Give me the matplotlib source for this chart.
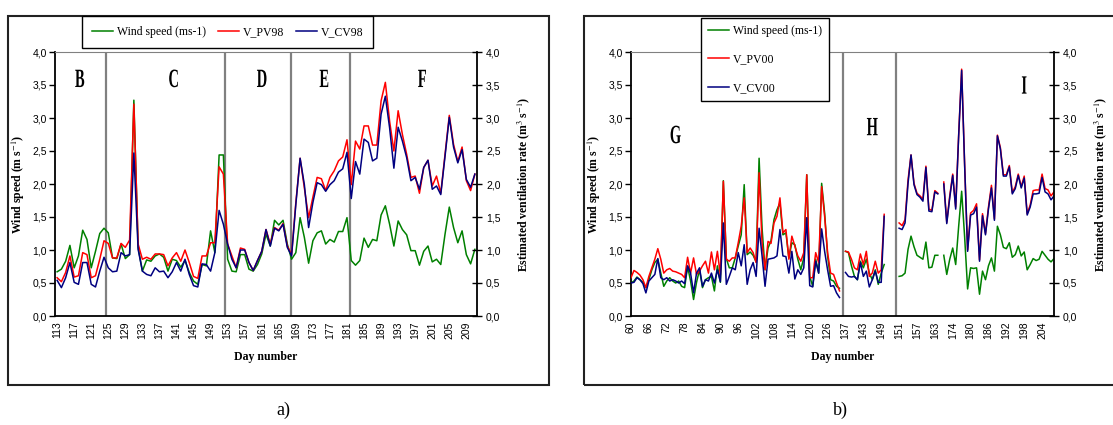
"""Wind speed and estimated ventilation rate by day number: a) 1998 (periods B-F), b) 2000 (periods G-I)."""
import matplotlib

matplotlib.use("Agg")
import matplotlib.pyplot as plt  # noqa: E402
import numpy as np  # noqa: E402
from matplotlib.font_manager import FontProperties  # noqa: E402
from matplotlib.patches import PathPatch, Rectangle  # noqa: E402
from matplotlib.textpath import TextPath  # noqa: E402
from matplotlib.ticker import FuncFormatter  # noqa: E402
from matplotlib.transforms import Affine2D, ScaledTranslation  # noqa: E402

nan = np.nan

# a) 1998 - one category per day, 113..211
days_98 = np.arange(113, 212)
wind_98 = [0.67, 0.71, 0.83, 1.07, 0.73, 0.91, 1.30, 1.16, 0.73, 0.98,
           1.25, 1.33, 1.26, 0.88, 0.87, 1.09, 0.87, 0.93, 3.27, 1.04,
           0.68, 0.85, 0.83, 0.91, 0.94, 0.89, 0.68, 0.86, 0.84, 0.74,
           0.84, 0.66, 0.53, 0.48, 0.78, 0.76, 1.29, 0.96, 2.44, 2.44,
           0.86, 0.68, 0.67, 0.93, 0.93, 0.71, 0.68, 0.78, 0.94, 1.24,
           1.06, 1.45, 1.38, 1.45, 1.09, 0.86, 0.96, 1.49, 1.19, 0.80,
           1.14, 1.26, 1.29, 1.09, 1.16, 1.12, 1.28, 1.28, 1.49, 0.84,
           0.77, 0.84, 1.18, 1.04, 1.16, 1.14, 1.53, 1.67, 1.39, 1.06,
           1.44, 1.31, 1.23, 0.99, 0.99, 0.77, 0.98, 1.06, 0.82, 0.86,
           0.78, 1.24, 1.65, 1.34, 1.11, 1.29, 0.93, 0.79, 1.01]
pv98 = [0.58, 0.52, 0.66, 0.91, 0.59, 0.61, 0.96, 0.93, 0.58, 0.61,
        0.86, 1.14, 1.10, 0.88, 0.88, 1.10, 1.04, 1.15, 3.21, 1.09,
        0.86, 0.89, 0.86, 0.94, 0.94, 0.93, 0.76, 0.88, 0.96, 0.83,
        1.00, 0.81, 0.60, 0.57, 0.91, 0.91, 1.11, 1.11, 2.26, 2.15,
        1.09, 0.91, 0.73, 1.03, 1.01, 0.81, 0.69, 0.84, 0.98, 1.31,
        1.09, 1.34, 1.30, 1.40, 1.06, 0.93, 1.72, 2.39, 1.94, 1.49,
        1.80, 2.10, 2.08, 1.90, 2.10, 2.20, 2.35, 2.41, 2.67, 1.99,
        2.65, 2.53, 2.88, 2.88, 2.59, 2.59, 3.26, 3.54, 2.95, 2.50,
        3.11, 2.75, 2.45, 2.10, 2.12, 1.86, 2.25, 2.36, 1.97, 2.12,
        1.86, 2.45, 3.04, 2.60, 2.34, 2.56, 2.05, 1.90, 2.15]
cv98 = [0.54, 0.43, 0.58, 0.81, 0.51, 0.48, 0.81, 0.81, 0.48, 0.44,
        0.68, 0.89, 0.73, 0.67, 0.68, 0.96, 0.91, 0.93, 2.47, 1.01,
        0.68, 0.63, 0.61, 0.73, 0.67, 0.68, 0.58, 0.67, 0.81, 0.68,
        0.86, 0.63, 0.46, 0.44, 0.79, 0.78, 0.68, 0.96, 1.60, 1.39,
        1.09, 0.86, 0.73, 1.00, 1.00, 0.81, 0.69, 0.84, 0.98, 1.31,
        1.06, 1.33, 1.29, 1.39, 1.04, 0.91, 1.69, 2.39, 1.99, 1.34,
        1.72, 2.02, 1.99, 1.89, 1.99, 2.05, 2.18, 2.23, 2.48, 1.78,
        2.34, 2.15, 2.68, 2.63, 2.35, 2.39, 3.06, 3.33, 2.85, 2.24,
        2.86, 2.65, 2.40, 2.05, 2.10, 1.92, 2.25, 2.36, 1.92, 1.97,
        1.84, 2.42, 3.01, 2.56, 2.32, 2.52, 2.07, 1.95, 2.15]
breaks_98 = [124.5, 152.3, 167.9, 181.6]
ticks_98 = days_98[::4]

# b) 2000 - category axis with empty slots between the periods
cat_00 = np.arange(143)
wind_00 = [0.50, 0.53, 0.59, 0.55, 0.51, 0.43, 0.55, 0.70, 0.81, 0.86,
           0.65, 0.45, 0.53, 0.58, 0.53, 0.50, 0.53, 0.45, 0.43, 0.75,
           0.53, 0.25, 0.51, 0.70, 0.43, 0.55, 0.58, 0.60, 0.38, 0.76,
           0.51, 2.05, 0.87, 0.73, 0.73, 0.88, 1.06, 1.23, 1.99, 0.93,
           0.97, 0.92, 0.82, 2.39, 1.33, 0.70, 1.03, 1.14, 1.46, 1.61,
           1.71, 1.23, 1.26, 0.88, 1.11, 1.08, 0.86, 0.70, 0.88, 2.14,
           0.60, 0.45, 0.86, 0.65, 2.01, 1.56, 0.91, 0.55, 0.53, 0.45,
           0.42, nan, 0.98, 0.96, 0.76, 0.60, 0.55, 0.83, 0.73, 0.86,
           0.65, 0.55, 0.70, 0.48, 0.65, 0.78, nan, nan, nan, nan,
           0.60, 0.61, 0.65, 1.01, 1.21, 1.05, 0.92, 0.89, 0.86, 1.12,
           0.73, 0.74, 0.92, 0.92, nan, 0.92, 0.63, 0.86, 1.03, 0.78,
           1.36, 1.89, 1.20, 0.41, 0.73, 0.72, 0.73, 0.33, 0.68, 0.55,
           0.76, 0.88, 0.68, 1.36, 1.23, 1.04, 1.02, 1.11, 0.89, 0.93,
           1.06, 0.91, 0.97, 0.70, 0.78, 0.87, 0.84, 0.86, 0.98, 0.92,
           0.86, 0.82, 0.87]
pv00 = [0.58, 0.69, 0.66, 0.62, 0.55, 0.43, 0.60, 0.73, 0.86, 1.02,
        0.86, 0.65, 0.70, 0.72, 0.68, 0.67, 0.65, 0.63, 0.58, 0.89,
        0.65, 0.88, 0.63, 0.68, 0.76, 0.83, 0.65, 0.97, 0.70, 0.98,
        0.62, 2.04, 0.86, 0.83, 0.88, 0.88, 1.11, 1.36, 1.79, 0.96,
        1.03, 0.96, 0.81, 2.17, 1.10, 0.70, 1.13, 1.10, 1.41, 1.51,
        1.79, 1.26, 1.31, 0.86, 1.21, 1.06, 0.91, 0.83, 0.96, 2.14,
        0.58, 0.58, 0.96, 0.81, 1.96, 1.51, 0.96, 0.65, 0.63, 0.50,
        0.38, nan, 0.98, 0.97, 0.86, 0.73, 0.70, 0.94, 0.78, 0.98,
        0.60, 0.65, 0.83, 0.65, 0.70, 1.54, nan, nan, nan, nan,
        1.41, 1.37, 1.46, 2.06, 2.44, 2.01, 1.86, 1.82, 1.77, 2.27,
        1.62, 1.60, 1.90, 1.86, nan, 2.03, 1.42, 1.82, 2.15, 1.65,
        2.75, 3.74, 2.30, 1.00, 1.56, 1.60, 1.70, 0.85, 1.55, 1.25,
        1.65, 1.98, 1.47, 2.74, 2.55, 2.14, 2.14, 2.28, 1.87, 1.96,
        2.15, 1.96, 2.12, 1.55, 1.68, 1.90, 1.91, 1.91, 2.15, 1.93,
        1.91, 1.82, 1.88]
cv00 = [0.50, 0.51, 0.58, 0.55, 0.49, 0.35, 0.53, 0.58, 0.63, 0.87,
        0.58, 0.55, 0.58, 0.53, 0.55, 0.53, 0.50, 0.53, 0.49, 0.76,
        0.65, 0.35, 0.65, 0.73, 0.45, 0.55, 0.53, 0.65, 0.50, 0.70,
        0.52, 1.41, 0.48, 0.60, 0.73, 0.70, 0.96, 0.76, 1.08, 0.48,
        0.70, 0.81, 0.60, 1.33, 0.91, 0.45, 0.86, 0.87, 0.88, 0.91,
        1.31, 0.91, 0.90, 0.65, 0.98, 0.56, 0.70, 0.63, 0.73, 1.49,
        0.46, 0.44, 0.83, 0.65, 1.32, 0.98, 0.70, 0.45, 0.46, 0.35,
        0.28, nan, 0.66, 0.60, 0.59, 0.60, 0.55, 0.81, 0.60, 0.68,
        0.44, 0.55, 0.68, 0.51, 0.51, 1.51, nan, nan, nan, nan,
        1.33, 1.31, 1.41, 2.01, 2.44, 1.99, 1.84, 1.80, 1.74, 2.25,
        1.59, 1.58, 1.88, 1.85, nan, 2.00, 1.40, 1.79, 2.13, 1.62,
        2.73, 3.72, 2.28, 0.98, 1.53, 1.55, 1.65, 0.83, 1.52, 1.23,
        1.62, 1.94, 1.45, 2.73, 2.53, 2.12, 2.12, 2.26, 1.85, 1.93,
        2.13, 1.94, 2.09, 1.53, 1.65, 1.85, 1.85, 1.86, 2.10, 1.88,
        1.85, 1.76, 1.82]
breaks_00 = [71.0, 88.9]
ticks_00 = cat_00[::6]
ticklabels_00 = ["60", "66", "72", "78", "84", "90", "96", "102", "108", "114", "120", "126",
                 "137", "143", "149", "151", "157", "163", "174", "180", "186", "192", "198", "204"]

SERIF = "Liberation Serif"
GREEN, RED, NAVY, SEP = "#008000", "#ff0000", "#000080", "#808080"
W, H = 1113, 425

plt.rcParams["font.family"] = "Liberation Sans"
plt.rcParams["mathtext.fontset"] = "stix"

comma = FuncFormatter(lambda v, _: f"{v:.1f}".replace(".", ","))


def tall_letter(ax, x, y, s):
    # period letters are tall and narrow in the original: squeeze a bold serif glyph
    tp = TextPath((0, 0), s, size=19, prop=FontProperties(family=SERIF, weight="bold"))
    ext = tp.get_extents()
    tr = (Affine2D().translate(-(ext.x0 + ext.x1) / 2, -(ext.y0 + ext.y1) / 2).scale(0.55 / 72, 1 / 72)
          + ax.figure.dpi_scale_trans + ScaledTranslation(x, y, ax.transData))
    ax.add_artist(PathPatch(tp, transform=tr, fc="black", ec="none", clip_on=False))


def panel(fig, px, x, wind, pv, cv, breaks, ticks, ticklabels, xlim, letters):
    x0, x1 = px
    ax = fig.add_axes([x0 / W, 1 - 316 / H, (x1 - x0) / W, 264 / H])
    ax2 = ax.twinx()
    for b in breaks:
        ax.axvline(b, color=SEP, lw=1.6, zorder=1)
    lines = ax.plot(x, wind, color=GREEN, lw=1.1, zorder=2)
    lines += ax2.plot(x, pv, color=RED, lw=1.1)
    lines += ax2.plot(x, cv, color=NAVY, lw=1.1)

    for a in (ax, ax2):
        a.set_ylim(0, 4)
        a.set_yticks(np.arange(0, 4.01, 0.5))
        a.yaxis.set_major_formatter(comma)
    ax.set_xlim(*xlim)
    ax.set_xticks(ticks)
    ax.set_xticklabels(ticklabels, rotation=90)
    ax.tick_params(axis="x", length=0, labelsize=7.5, pad=4)
    ax.tick_params(axis="y", direction="out", length=4, width=1, labelsize=7.5, pad=2)
    ax2.tick_params(axis="y", direction="inout", length=7, width=1, labelsize=7.5, pad=3)

    ax.spines["top"].set_color(SEP)
    ax.spines["right"].set_visible(False)
    for s in ("left", "bottom"):
        ax.spines[s].set_linewidth(1.3)
    for s in ("top", "left", "bottom"):
        ax2.spines[s].set_visible(False)
    ax2.spines["right"].set_linewidth(1.3)

    lab = dict(family=SERIF, weight="bold", size=8.5)
    ax.set_xlabel("Day number", **lab)
    ax.xaxis.set_label_coords(0.5, -0.133)
    ax.set_ylabel("Wind speed (m s$^{-1}$)", **lab)
    ax.yaxis.set_label_coords(-0.066, 0.5)
    ax2.set_ylabel("Estimated ventilation rate (m$^{3}$ s$^{-1}$)", **lab)
    ax2.yaxis.set_label_coords(1.091, 0.5)

    for s, lx, ly in letters:
        tall_letter(ax, lx, ly, s)
    return lines


fig = plt.figure(figsize=(W / 100, H / 100), dpi=100)

lines_a = panel(fig, (55, 477), days_98, wind_98, pv98, cv98, breaks_98, ticks_98, [str(d) for d in ticks_98],
                (112.5, 211.5), [("B", 118.3, 3.6), ("C", 140.3, 3.6), ("D", 161.0, 3.6),
                                 ("E", 175.6, 3.6), ("F", 198.6, 3.6)])
lines_b = panel(fig, (631, 1054), cat_00, wind_00, pv00, cv00, breaks_00, ticks_00, ticklabels_00,
                (0, 142), [("G", 15, 2.75), ("H", 81, 2.87), ("I", 132, 3.5)])

leg_kw = dict(loc="upper left", bbox_transform=fig.transFigure, frameon=True, fancybox=False,
              edgecolor="black", framealpha=1, borderaxespad=0, handlelength=1.8, handletextpad=0.3,
              prop=FontProperties(family=SERIF, size=8.5))
leg = fig.legend(lines_a, ["Wind speed (ms-1)", "V_PV98", "V_CV98"], ncol=3, borderpad=0.85,
                 bbox_to_anchor=(82 / W, 1 - 16 / H), columnspacing=1.0, **leg_kw)
leg.get_frame().set_linewidth(1.0)
leg = fig.legend(lines_b, ["Wind speed (ms-1)", "V_PV00", "V_CV00"], ncol=1, borderpad=0.6,
                 bbox_to_anchor=(701 / W, 1 - 18 / H), labelspacing=1.4, **leg_kw)
leg.get_frame().set_linewidth(1.0)

# panel frames
fig.add_artist(Rectangle((8 / W, 1 - 385 / H), 541 / W, 369 / H, transform=fig.transFigure,
                         fill=False, ec="#222222", lw=1.5, clip_on=False))
fig.add_artist(Rectangle((584 / W, 1 - 385 / H), 560 / W, 369 / H, transform=fig.transFigure,
                         fill=False, ec="#222222", lw=1.5, clip_on=False))

fig.text(283 / W, 1 - 410 / H, "a)", ha="center", va="center", family=SERIF, size=13)
fig.text(840 / W, 1 - 410 / H, "b)", ha="center", va="center", family=SERIF, size=13)

fig.savefig("out.png", dpi=100)
